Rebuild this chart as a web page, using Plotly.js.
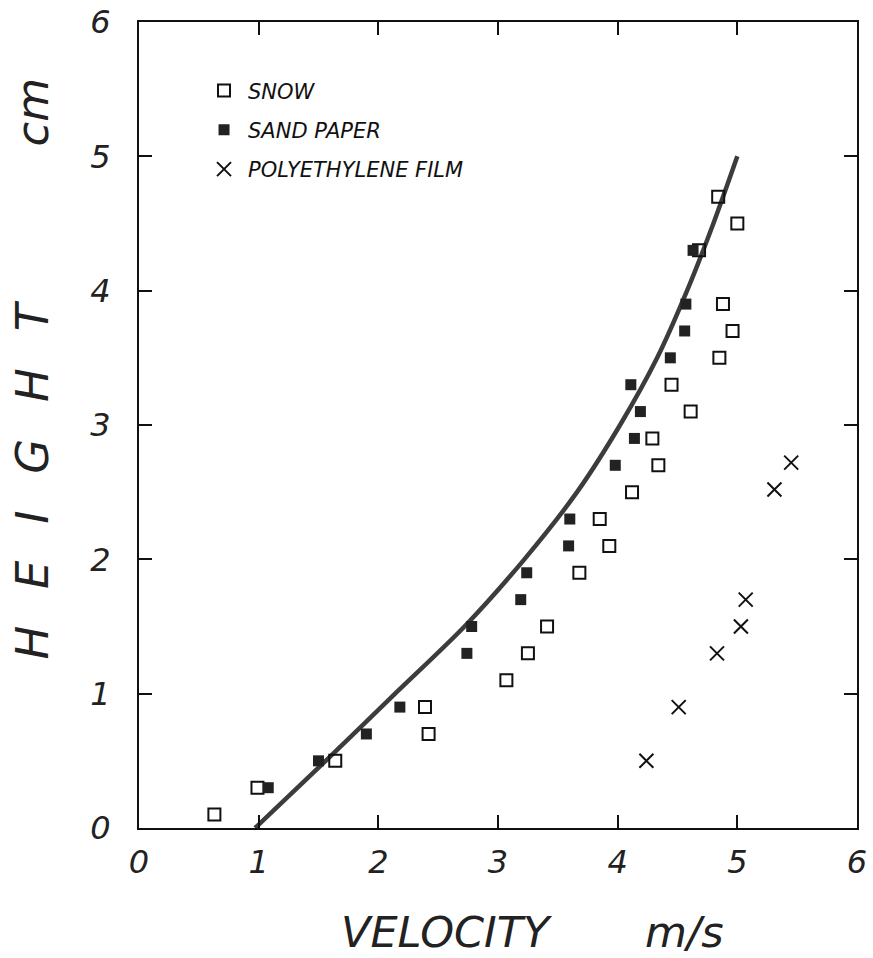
<!DOCTYPE html>
<html><head><meta charset="utf-8">
<script src="https://cdn.plot.ly/plotly-3.0.1.min.js"></script>
<style>html,body{margin:0;padding:0;background:#fff}</style>
</head><body><div id="chart" style="width:873px;height:958px"></div>
<script>
// Snow (open squares)
const snowV = [0.63,0.99,1.64,2.42,2.39,3.07,3.25,3.41,3.68,3.93,3.85,4.12,4.34,4.29,4.61,4.45,4.85,4.96,4.88,4.68,5.00,4.84];
const snowH = [0.1,0.3,0.5,0.7,0.9,1.1,1.3,1.5,1.9,2.1,2.3,2.5,2.7,2.9,3.1,3.3,3.5,3.7,3.9,4.3,4.5,4.7];
// Sand paper (filled squares)
const sandV = [1.08,1.50,1.90,2.18,2.74,2.78,3.19,3.24,3.59,3.60,3.98,4.14,4.19,4.11,4.44,4.56,4.57,4.63];
const sandH = [0.3,0.5,0.7,0.9,1.3,1.5,1.7,1.9,2.1,2.3,2.7,2.9,3.1,3.3,3.5,3.7,3.9,4.3];
// Polyethylene film (crosses)
const polyV = [4.24,4.51,4.83,5.03,5.07,5.31,5.45];
const polyH = [0.5,0.9,1.3,1.5,1.7,2.52,2.72];
// Fitted curve
const curveV = [0.97,1.56,2.14,2.72,3.22,3.66,4.02,4.33,4.58,4.80,5.00];
const curveH = [0,0.5,1.0,1.5,2.0,2.5,3.0,3.5,4.0,4.5,5.0];
const tickVals = [0,1,2,3,4,5,6];
const tickText = ['0','1','2','3','4','5','6'];
const seriesNames = ['SNOW','SAND PAPER','POLYETHYLENE FILM'];
const xTitle = 'VELOCITY       m/s';
const yTitle = 'H\u2002 E\u2002 I\u2002 G\u2002 H\u2002 T           cm';

const FAM = '"DejaVu Sans ExtraLight", "DejaVu Sans"';
const tickFont = {family:FAM, size:32, color:'#222', style:'italic'};
const traces = [
  {x:curveV, y:curveH, mode:'lines', line:{color:'#3c3c3c', width:4.5, shape:'spline', smoothing:0.8}, showlegend:false, hoverinfo:'skip'},
  {x:snowV, y:snowH, mode:'markers', name:seriesNames[0], legendgroup:'a',
   marker:{symbol:'square-open', size:12, color:'#111', line:{width:2, color:'#111'}}},
  {x:sandV, y:sandH, mode:'markers', name:seriesNames[1], legendgroup:'b',
   marker:{symbol:'square', size:11, color:'#222', line:{width:0}}},
  {x:polyV, y:polyH, mode:'markers', name:seriesNames[2], legendgroup:'c',
   marker:{symbol:'x-thin-open', size:14, color:'#111', line:{width:2, color:'#111'}}}
];
const axisCommon = {range:[0,6], tickvals:tickVals, ticktext:tickText, ticks:'inside', ticklen:13, tickwidth:2,
  tickcolor:'#111', showline:true, linecolor:'#111', linewidth:2, mirror:'ticks', showgrid:false, zeroline:false,
  tickfont:tickFont};
const layout = {
  width:873, height:958,
  margin:{l:139, r:16, t:22, b:130},
  paper_bgcolor:'#fff', plot_bgcolor:'#fff',
  xaxis:Object.assign({}, axisCommon, {ticklabelstandoff:5}),
  yaxis:Object.assign({}, axisCommon, {ticklabelstandoff:20}),
  showlegend:true,
  legend:{x:0.085, y:0.94, xanchor:'left', yanchor:'top', bgcolor:'rgba(0,0,0,0)',
    font:{family:FAM, size:21, color:'#111', style:'italic'}, tracegroupgap:9, itemwidth:38},
  annotations:[
    {text:xTitle, xref:'paper', yref:'paper', x:0.548, y:0, yshift:-104, xanchor:'center', yanchor:'middle', showarrow:false,
     font:{family:FAM, size:43, color:'#222', style:'italic'}},
    {text:yTitle, xref:'paper', yref:'paper', x:0, xshift:-106, y:0.57, xanchor:'center', yanchor:'middle', textangle:-90, showarrow:false,
     font:{family:FAM, size:45, color:'#222', style:'italic'}}
  ]
};
Plotly.newPlot('chart', traces, layout, {staticPlot:true, displayModeBar:false});
</script></body></html>
